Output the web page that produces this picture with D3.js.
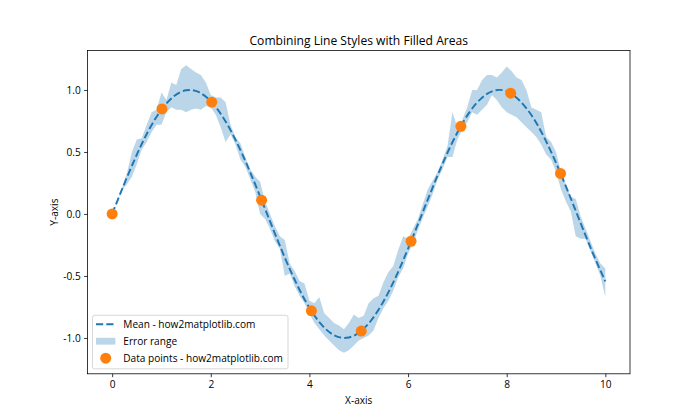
<!DOCTYPE html>
<html>
<head>
<meta charset="utf-8">
<script src="https://cdn.jsdelivr.net/npm/d3@7"></script>
<style>
  html, body { margin: 0; padding: 0; background: #fff; }
  svg text { font-family: "Open Sans", "Noto Sans", sans-serif; fill: #000; }
</style>
</head>
<body>
<svg id="chart" width="700" height="420"></svg>
<script>
// ---- data ----
const meanX = [0,0.25,0.5,0.75,1,1.25,1.5,1.75,2,2.25,2.5,2.75,3,3.25,3.5,3.75,4,4.25,4.5,4.75,5,5.25,5.5,5.75,6,6.25,6.5,6.75,7,7.25,7.5,7.75,8,8.25,8.5,8.75,9,9.25,9.5,9.75,10];
const meanY = [0,0.247,0.479,0.682,0.841,0.949,0.997,0.984,0.909,0.778,0.598,0.382,0.141,-0.108,-0.351,-0.572,-0.757,-0.895,-0.978,-0.999,-0.959,-0.859,-0.706,-0.510,-0.279,-0.033,0.215,0.451,0.657,0.823,0.938,0.995,0.989,0.919,0.798,0.625,0.412,0.174,-0.075,-0.319,-0.544];

const bandX = [0,0.1,0.2,0.3,0.4,0.5,0.6,0.7,0.8,0.9,1.0,1.1,1.2,1.3,1.4,1.5,1.6,1.7,1.8,1.9,2.0,2.1,2.2,2.3,2.4,2.5,2.6,2.7,2.8,2.9,3.0,3.1,3.2,3.3,3.4,3.5,3.6,3.7,3.8,3.9,4.0,4.1,4.2,4.3,4.4,4.5,4.6,4.7,4.8,4.9,5.0,5.1,5.2,5.3,5.4,5.5,5.6,5.7,5.8,5.9,6.0,6.1,6.2,6.3,6.4,6.5,6.6,6.7,6.8,6.9,7.0,7.1,7.2,7.3,7.4,7.5,7.6,7.7,7.8,7.9,8.0,8.1,8.2,8.3,8.4,8.5,8.6,8.7,8.8,8.9,9.0,9.1,9.2,9.3,9.4,9.5,9.6,9.7,9.8,9.9,10.0];
const bandUpper = [0,0.10,0.21,0.33,0.50,0.60,0.61,0.72,0.82,0.84,0.98,0.92,1.06,1.04,1.17,1.20,1.17,1.14,1.12,1.06,0.96,0.94,0.94,0.90,0.72,0.62,0.57,0.46,0.36,0.30,0.26,0.10,0.00,-0.10,-0.18,-0.21,-0.40,-0.46,-0.54,-0.56,-0.70,-0.72,-0.67,-0.80,-0.84,-0.88,-0.90,-0.93,-0.88,-0.81,-0.84,-0.82,-0.72,-0.68,-0.66,-0.55,-0.47,-0.42,-0.29,-0.18,-0.20,-0.12,-0.04,0.08,0.20,0.27,0.34,0.44,0.55,0.82,0.70,0.76,0.86,1.00,1.00,1.08,1.12,1.12,1.10,1.14,1.19,1.15,1.10,1.08,1.00,0.86,0.84,0.82,0.62,0.58,0.50,0.34,0.24,0.14,0.12,-0.02,-0.12,-0.22,-0.32,-0.40,-0.44];
const bandLower = [0,0.10,0.19,0.24,0.30,0.40,0.52,0.58,0.66,0.72,0.72,0.82,0.86,0.84,0.84,0.82,0.84,0.85,0.84,0.87,0.86,0.80,0.70,0.58,0.64,0.56,0.44,0.38,0.28,0.18,0.00,-0.04,-0.12,-0.22,-0.28,-0.50,-0.48,-0.58,-0.66,-0.72,-0.80,-0.88,-0.93,-0.98,-1.02,-1.06,-1.10,-1.12,-1.10,-1.06,-1.02,-1.00,-0.98,-0.94,-0.84,-0.76,-0.70,-0.62,-0.51,-0.44,-0.32,-0.24,-0.13,-0.03,0.06,0.16,0.28,0.36,0.46,0.46,0.60,0.68,0.74,0.82,0.80,0.84,0.88,0.96,0.92,0.86,0.82,0.80,0.78,0.74,0.70,0.66,0.62,0.56,0.48,0.44,0.34,0.20,0.10,0.02,-0.18,-0.20,-0.20,-0.30,-0.40,-0.50,-0.67];

const pointX = [0,1.0101,2.0202,3.0303,4.0404,5.0505,6.0606,7.0707,8.0808,9.0909];
const pointY = [0,0.847,0.901,0.111,-0.781,-0.944,-0.220,0.707,0.974,0.327];

const xTicks = [0,2,4,6,8,10];
const yTicks = [-1.0,-0.5,0.0,0.5,1.0];
const legendLabels = ["Mean - how2matplotlib.com","Error range","Data points - how2matplotlib.com"];

// ---- layout ----
const svg = d3.select("#chart");
const L = 87.5, R = 630, T = 50.4, B = 373.8;
const blue = "#1f77b4", orange = "#ff7f0e";
const fs = 10.1;

const x = d3.scaleLinear().domain([-0.5, 10.5]).range([L, R]);
const y = d3.scaleLinear().domain([-1.289, 1.319]).range([B, T]);

const g = svg.append("g");

// mean line
const meanData = meanX.map((v,i)=>[v, meanY[i]]);
g.append("path")
  .datum(meanData)
  .attr("fill","none")
  .attr("stroke", blue)
  .attr("stroke-width", 1.94)
  .attr("stroke-dasharray", "7.2,3.1")
  .attr("d", d3.line().x(d=>x(d[0])).y(d=>y(d[1])).curve(d3.curveNatural));

// error band
const bandData = bandX.map((v,i)=>({x:v, u:bandUpper[i], l:bandLower[i]}));
g.append("path")
  .datum(bandData)
  .attr("fill", blue)
  .attr("fill-opacity", 0.3)
  .attr("d", d3.area().x(d=>x(d.x)).y0(d=>y(d.l)).y1(d=>y(d.u)));

// points
g.selectAll("circle.pt")
  .data(pointX.map((v,i)=>[v, pointY[i]]))
  .enter().append("circle")
  .attr("class","pt")
  .attr("cx", d=>x(d[0])).attr("cy", d=>y(d[1]))
  .attr("r", 5.5)
  .attr("fill", orange);

// axes
const xAxis = d3.axisBottom(x).tickValues(xTicks).tickSize(3.4).tickPadding(3.4).tickFormat(d3.format("d"));
const yAxis = d3.axisLeft(y).tickValues(yTicks).tickSize(3.4).tickPadding(3.4).tickFormat(d=>d3.format(".1f")(d).replace("−","-"));

const gx = svg.append("g").attr("transform", `translate(0,${B})`).call(xAxis);
const gy = svg.append("g").attr("transform", `translate(${L},0)`).call(yAxis);
[gx, gy].forEach(a=>{
  a.select(".domain").remove();
  a.selectAll(".tick line").attr("stroke","#000").attr("stroke-width",0.78);
  a.selectAll(".tick text").attr("font-size", fs).attr("font-family","'Open Sans', sans-serif").attr("fill","#000");
});

// frame
svg.append("rect").attr("x",L).attr("y",T).attr("width",R-L).attr("height",B-T)
  .attr("fill","none").attr("stroke","#000").attr("stroke-width",0.78);

// title and labels
svg.append("text").attr("x",(L+R)/2).attr("y",44.5).attr("text-anchor","middle")
  .attr("font-size",12.1).text("Combining Line Styles with Filled Areas");
svg.append("text").attr("x",(L+R)/2).attr("y",404).attr("text-anchor","middle")
  .attr("font-size",fs).text("X-axis");
svg.append("text").attr("transform",`translate(58,${(T+B)/2}) rotate(-90)`).attr("text-anchor","middle")
  .attr("font-size",fs).text("Y-axis");

// legend
const lg = svg.append("g");
lg.append("rect").attr("x",92.5).attr("y",315.3).attr("width",195.5).attr("height",53.5)
  .attr("rx",2).attr("ry",2)
  .attr("fill","#fff").attr("fill-opacity",0.8).attr("stroke","#cccccc").attr("stroke-width",0.78);
const rowY = [324.2, 341.2, 358.2];
lg.append("line").attr("x1",96).attr("x2",115.4).attr("y1",rowY[0]).attr("y2",rowY[0])
  .attr("stroke",blue).attr("stroke-width",1.94).attr("stroke-dasharray","7.2,3.1");
lg.append("rect").attr("x",96).attr("y",rowY[1]-3.4).attr("width",19.4).attr("height",6.8)
  .attr("fill",blue).attr("fill-opacity",0.3);
lg.append("circle").attr("cx",105.7).attr("cy",rowY[2]).attr("r",5.5).attr("fill",orange);
lg.selectAll("text.lt").data(legendLabels).enter().append("text")
  .attr("class","lt").attr("x",123.3).attr("y",(d,i)=>rowY[i]).attr("dy","0.35em")
  .attr("font-size",fs).text(d=>d);
</script>
</body>
</html>
